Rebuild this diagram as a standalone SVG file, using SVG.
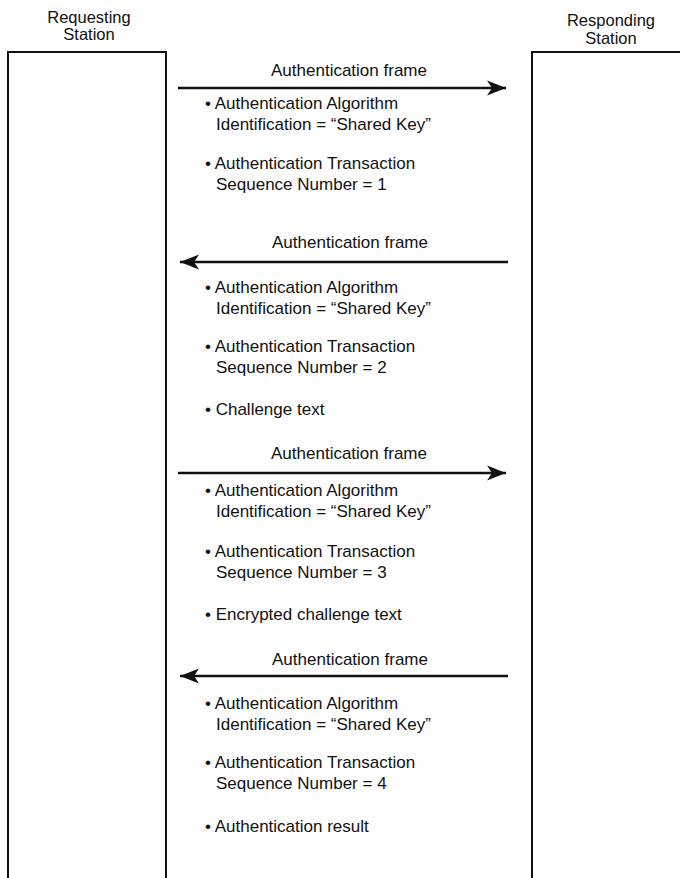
<svg xmlns="http://www.w3.org/2000/svg" width="680" height="878" viewBox="0 0 680 878">
<style>
text { font-family: "Liberation Sans", Arial, sans-serif; font-size: 17px; fill: #111; }
.hdr { font-size: 16.5px; text-anchor: middle; }
.lbl { text-anchor: middle; }
.box { fill: none; stroke: #111; stroke-width: 2; }
.msg { fill: none; stroke: #111; stroke-width: 2.5; }
</style>
<defs>
<marker id="ah" markerUnits="userSpaceOnUse" markerWidth="20" markerHeight="16" viewBox="-19 -8 20 16" refX="0" refY="0" orient="auto">
<path d="M0,0 L-19,-7.5 L-14,0 L-19,7.5 Z" fill="#111"/>
</marker>
</defs>
<rect width="680" height="878" fill="#fff"/>
<g id="requesting-station">
<text class="hdr" x="89" y="23">Requesting</text>
<text class="hdr" x="89" y="40">Station</text>
<path class="box" d="M8,878 V52 H166 V878"/>
</g>
<g id="responding-station">
<text class="hdr" x="611" y="26">Responding</text>
<text class="hdr" x="611" y="44">Station</text>
<path class="box" d="M532,878 V52 H681"/>
</g>
<g id="connectors">
<line class="msg" x1="178" y1="88" x2="506" y2="88" marker-end="url(#ah)"/>
<line class="msg" x1="508" y1="262" x2="180" y2="262" marker-end="url(#ah)"/>
<line class="msg" x1="178" y1="473" x2="506" y2="473" marker-end="url(#ah)"/>
<line class="msg" x1="508" y1="676" x2="180" y2="676" marker-end="url(#ah)"/>
</g>
<g id="frame-1">
<text class="lbl" x="349" y="76">Authentication frame</text>
<text x="205" y="109">• Authentication Algorithm</text>
<text x="216" y="130">Identification = “Shared Key”</text>
<text x="205" y="169">• Authentication Transaction</text>
<text x="216" y="190">Sequence Number = 1</text>
</g>
<g id="frame-2">
<text class="lbl" x="350" y="248">Authentication frame</text>
<text x="205" y="293">• Authentication Algorithm</text>
<text x="216" y="314">Identification = “Shared Key”</text>
<text x="205" y="352">• Authentication Transaction</text>
<text x="216" y="373">Sequence Number = 2</text>
<text x="205" y="415">• Challenge text</text>
</g>
<g id="frame-3">
<text class="lbl" x="349" y="459">Authentication frame</text>
<text x="205" y="496">• Authentication Algorithm</text>
<text x="216" y="517">Identification = “Shared Key”</text>
<text x="205" y="557">• Authentication Transaction</text>
<text x="216" y="578">Sequence Number = 3</text>
<text x="205" y="620">• Encrypted challenge text</text>
</g>
<g id="frame-4">
<text class="lbl" x="350" y="665">Authentication frame</text>
<text x="205" y="709">• Authentication Algorithm</text>
<text x="216" y="730">Identification = “Shared Key”</text>
<text x="205" y="768">• Authentication Transaction</text>
<text x="216" y="789">Sequence Number = 4</text>
<text x="205" y="832">• Authentication result</text>
</g>
</svg>
